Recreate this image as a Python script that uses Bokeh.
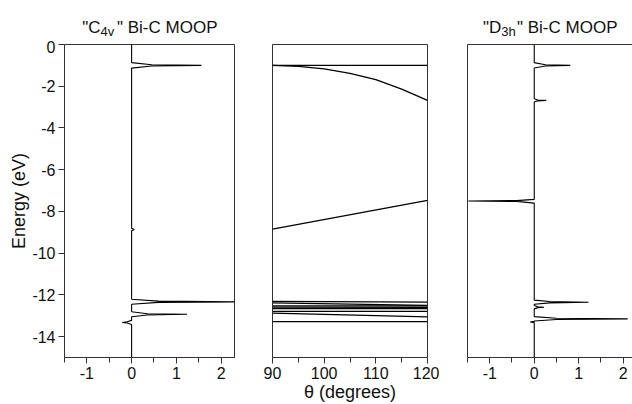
from bokeh.plotting import figure
from bokeh.layouts import row, column
from bokeh.models import FixedTicker, LinearAxis, Range1d, Spacer
from bokeh.core.properties import value
from bokeh.embed import file_html
from bokeh.resources import INLINE

# ---------------- data ----------------
energy_ticks = [0, -2, -4, -6, -8, -10, -12, -14]
energy_tick_labels = ["0", "-2", "-4", "-6", "-8", "-10", "-12", "-14"]
moop_ticks = [-1, 0, 1, 2]
moop_tick_labels = ["-1", "0", "1", "2"]
moop_minor_ticks = [-1.5, -0.5, 0.5, 1.5]
theta_ticks = [90, 100, 110, 120]
theta_tick_labels = ["90", "100", "110", "120"]
theta_minor_ticks = [95, 105, 115]

# "C4v" Bi-C MOOP curve (energy in eV, overlap population)
c4v_energy = [0.0,
              -0.87, -0.97, -1.00, -1.03, -1.13,
              -8.80, -8.86, -8.92,
              -12.21, -12.30, -12.33, -12.36, -12.45,
              -12.81, -12.90, -12.93, -12.96, -13.05,
              -13.22, -13.29, -13.32, -13.35, -13.42,
              -15.0]
c4v_moop = [0.0,
            0.0, 0.45, 1.56, 0.45, 0.0,
            0.0, 0.06, 0.0,
            0.0, 0.6, 2.6, 0.6, 0.0,
            0.0, 0.35, 1.24, 0.35, 0.0,
            0.0, -0.1, -0.21, -0.1, 0.0,
            0.0]

# "D3h" Bi-C MOOP curve
d3h_energy = [0.0,
              -0.87, -0.97, -1.00, -1.03, -1.13,
              -2.60, -2.66, -2.68, -2.70, -2.76,
              -7.42, -7.48, -7.50, -7.52, -7.60,
              -12.25, -12.32, -12.35, -12.38, -12.45,
              -12.51, -12.57, -12.59, -12.61, -12.67,
              -13.04, -13.12, -13.15, -13.18, -13.25,
              -13.27, -13.30, -13.33,
              -15.0]
d3h_moop = [0.0,
            0.0, 0.25, 0.81, 0.25, 0.0,
            0.0, 0.08, 0.27, 0.08, 0.0,
            0.0, -0.4, -1.48, -0.4, 0.0,
            0.0, 0.35, 1.22, 0.35, 0.0,
            0.0, 0.08, 0.22, 0.08, 0.0,
            0.0, 0.5, 2.1, 0.5, 0.0,
            0.0, -0.09, 0.0,
            0.0]

# Walsh diagram (energy vs theta)
theta_curve = [90, 95, 100, 105, 110, 115, 120]
walsh_curve = [-1.0, -1.05, -1.17, -1.38, -1.68, -2.14, -2.68]
theta_ends = [90, 120]
walsh_start = [-1.0, -8.85, -12.31, -12.38, -12.53, -12.59, -12.66, -12.79, -12.87, -13.28]
walsh_end = [-1.0, -7.47, -12.35, -12.50, -12.53, -12.60, -12.66, -12.79, -13.05, -13.28]

# panel titles: (main part, subscript, rest)
title_c4v = ['"C', "4v", '" Bi-C MOOP']
title_d3h = ['"D', "3h", '" Bi-C MOOP']

# ---------------- style ----------------
FONT = "Liberation Sans"
AX = "#333333"
TXT = "#111111"
TOP, BOTTOM, H = 4, 47, 364
TH = 40  # title strip height


def style_x(ax, ticks, labels, minor):
    ax.ticker = FixedTicker(ticks=ticks, minor_ticks=minor)
    ax.major_label_overrides = dict(zip(ticks, labels))
    ax.major_label_text_font = FONT
    ax.major_label_text_font_size = "16px"
    ax.major_label_text_color = TXT
    ax.major_label_standoff = 3
    ax.major_tick_out = 6
    ax.major_tick_in = 0
    ax.minor_tick_out = 5
    ax.minor_tick_in = 0
    ax.axis_line_color = AX
    ax.major_tick_line_color = AX
    ax.minor_tick_line_color = AX


def make_fig(width, xr, mbl, mbr):
    p = figure(width=width, height=H, x_range=Range1d(*xr), y_range=Range1d(-15, 0),
               output_backend="svg", toolbar_location=None,
               min_border_left=mbl, min_border_right=mbr,
               min_border_top=TOP, min_border_bottom=BOTTOM)
    p.xgrid.visible = False
    p.ygrid.visible = False
    p.outline_line_color = AX
    p.outline_line_width = 1
    p.background_fill_color = "white"
    p.border_fill_color = "white"
    return p


def title_fig(width, parts, x_split, x_rest):
    t = figure(width=width, height=TH, x_range=Range1d(0, width), y_range=Range1d(0, TH),
               output_backend="svg", toolbar_location=None,
               x_axis_location=None, y_axis_location=None,
               min_border=0, min_border_left=0, min_border_right=0,
               min_border_top=0, min_border_bottom=0)
    t.xgrid.visible = False
    t.ygrid.visible = False
    t.outline_line_color = None
    t.text(x=[x_split], y=[TH - 27], text=[parts[0]], text_align="right",
           text_baseline="alphabetic", text_font=value(FONT),
           text_font_size=value("17px"), text_color=TXT)
    t.text(x=[x_split], y=[TH - 31], text=[parts[1]], text_align="left",
           text_baseline="alphabetic", text_font=value(FONT),
           text_font_size=value("13px"), text_color=TXT)
    t.text(x=[x_rest], y=[TH - 27], text=[parts[2]], text_align="left",
           text_baseline="alphabetic", text_font=value(FONT),
           text_font_size=value("17px"), text_color=TXT)
    return t


# ---- left panel: C4v MOOP ----
p1 = make_fig(250, (-1.5, 2.3), 64, 16)
style_x(p1.xaxis[0], moop_ticks, moop_tick_labels, moop_minor_ticks)
ya = p1.yaxis[0]
ya.ticker = FixedTicker(ticks=energy_ticks, minor_ticks=[])
ya.major_label_overrides = dict(zip(energy_ticks, energy_tick_labels))
ya.major_label_text_font = FONT
ya.major_label_text_font_size = "16px"
ya.major_label_text_color = TXT
ya.major_label_standoff = 3
ya.major_tick_out = 6
ya.major_tick_in = 0
ya.minor_tick_out = 0
ya.minor_tick_in = 0
ya.axis_line_color = AX
ya.major_tick_line_color = AX
ya.axis_label = "Energy (eV)"
ya.axis_label_text_font = FONT
ya.axis_label_text_font_size = "18px"
ya.axis_label_text_font_style = "normal"
ya.axis_label_text_color = TXT
ya.axis_label_standoff = 0
p1.line(c4v_moop, c4v_energy, line_color="black", line_width=1.1)

# ---- middle panel: Walsh diagram ----
p2 = make_fig(189, (90, 120), 22, 12)
p2.yaxis.visible = False
xa2 = p2.xaxis[0]
style_x(xa2, theta_ticks, theta_tick_labels, theta_minor_ticks)
xa2.axis_label = "\u03b8 (degrees)"
xa2.axis_label_text_font = FONT
xa2.axis_label_text_font_size = "18px"
xa2.axis_label_text_font_style = "normal"
xa2.axis_label_text_color = TXT
xa2.axis_label_standoff = 0
p2.multi_line([theta_ends] * len(walsh_start),
              [[s, e] for s, e in zip(walsh_start, walsh_end)],
              line_color="black", line_width=1.3)
p2.line(theta_curve, walsh_curve, line_color="black", line_width=1.3)

# ---- right panel: D3h MOOP ----
p3 = make_fig(193, (-1.5, 2.208), 28, 0)
p3.outline_line_color = None
style_x(p3.xaxis[0], moop_ticks, moop_tick_labels, moop_minor_ticks)
ya3 = p3.yaxis[0]
ya3.ticker = FixedTicker(ticks=[], minor_ticks=[])
ya3.axis_line_color = AX
ya3.major_tick_out = 0
ya3.minor_tick_out = 0
top_ax = LinearAxis(ticker=FixedTicker(ticks=[], minor_ticks=[]), axis_line_color=AX,
                    major_tick_out=0, minor_tick_out=0)
p3.add_layout(top_ax, "above")
p3.line(d3h_moop, d3h_energy, line_color="black", line_width=1.1)

# ---- title strips ----
t1 = title_fig(250, title_c4v, 100, 116.5)
t3 = title_fig(193, title_d3h, 61.7, 77.5)

layout = column(row(t1, Spacer(width=189, height=TH), t3), row(p1, p2, p3))
open("out.html", "w").write(file_html(layout, INLINE))
